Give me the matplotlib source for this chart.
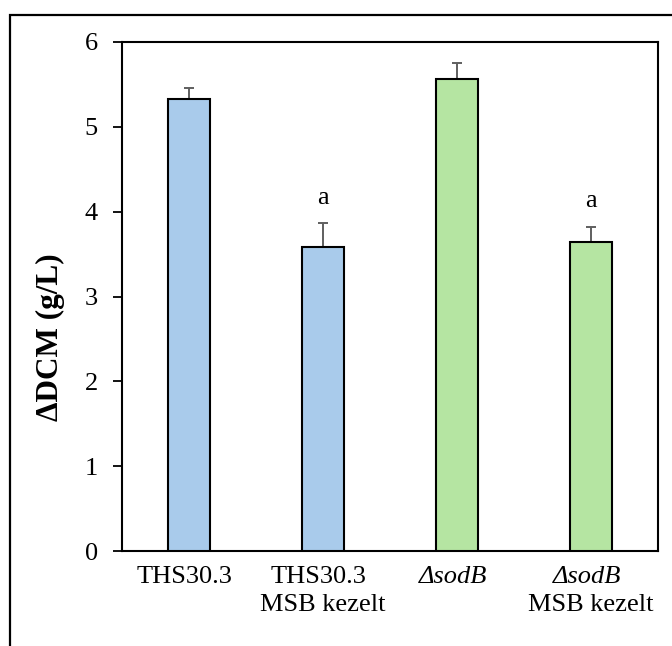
import matplotlib
matplotlib.use("Agg")
import matplotlib.pyplot as plt
from matplotlib.patches import Rectangle
from matplotlib.transforms import offset_copy

# ---- data ----
line1 = ["THS30.3", "THS30.3", "\u0394sodB", "\u0394sodB"]
line1_italic = [False, False, True, True]
line2 = ["", "MSB kezelt", "", "MSB kezelt"]
values = [5.33, 3.58, 5.56, 3.64]
errors = [0.13, 0.29, 0.19, 0.18]
letters = ["", "a", "", "a"]
letter_y = [0, 4.16, 0, 4.12]
yticks = [0, 1, 2, 3, 4, 5, 6]
ylabel = "\u0394DCM (g/L)"

blue = "#A9CBEB"
green = "#B5E5A2"
colors = [blue, blue, green, green]

plt.rcParams["font.family"] = ["Liberation Serif", "DejaVu Serif"]

fig = plt.figure(figsize=(6.72, 6.46), dpi=100)
ax = fig.add_axes([122 / 672, 1 - 551 / 646, 536 / 672, 509 / 646])

x = list(range(len(values)))
ax.bar(x, values, width=0.31, color=colors, edgecolor="black", linewidth=1.5, zorder=3)
ax.errorbar(x, values, yerr=[[0] * len(errors), errors], fmt="none",
            ecolor="#5f5f5f", elinewidth=1.4, capsize=3.3, capthick=1.4, zorder=2)

for xi, t, ly in zip(x, letters, letter_y):
    if t:
        ax.text(xi, ly, t, ha="center", va="center", fontsize=19)

ax.set_xlim(-0.5, 3.5)
ax.set_ylim(0, 6)
ax.set_yticks(yticks)
ax.set_yticklabels([str(t) for t in yticks], fontsize=19)
ax.tick_params(axis="y", direction="out", length=6.5, width=1.3, pad=11)
ax.set_xticks([])
for s in ax.spines.values():
    s.set_linewidth(1.5)

# category labels (two lines)
for xi, t1, it, t2 in zip(x, line1, line1_italic, line2):
    tr1 = offset_copy(ax.get_xaxis_transform(), fig=fig, y=-26 * 72 / 100, units="points")
    ax.text(xi - 0.03, 0, t1, transform=tr1, ha="center", va="center", fontsize=19,
            style="italic" if it else "normal")
    if t2:
        tr2 = offset_copy(ax.get_xaxis_transform(), fig=fig, y=-54 * 72 / 100, units="points")
        ax.text(xi, 0, t2, transform=tr2, ha="center", va="center", fontsize=19)

ax.set_ylabel(ylabel, fontsize=22.5, fontweight="bold", va="center")
ax.yaxis.set_label_coords((50 - 122) / 536, 0.42)

# outer frame (cut off at right and bottom)
fig.add_artist(Rectangle((10 / 672, -0.2), 1.5, 1.2 - 15 / 646, transform=fig.transFigure,
                         fill=False, edgecolor="black", linewidth=1.6))

fig.savefig("out.png", dpi=100)
